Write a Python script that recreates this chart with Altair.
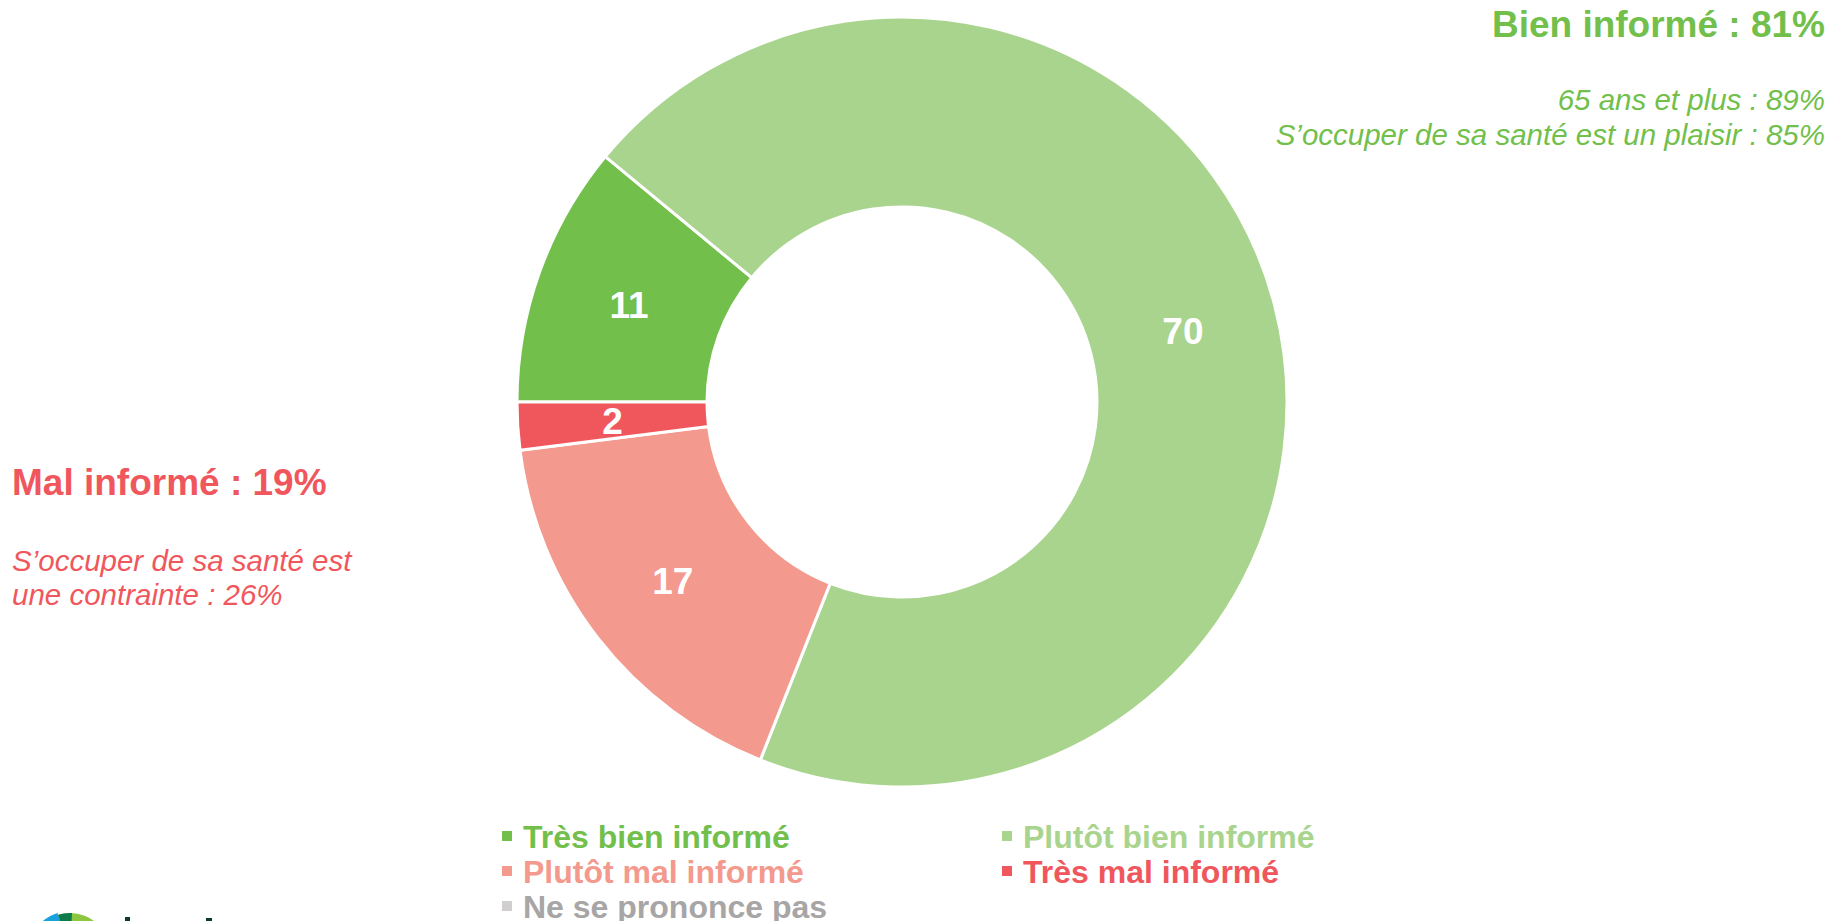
import math
import altair as alt
import pandas as pd

# ---------------- data ----------------
categories = ["Très bien informé", "Plutôt bien informé", "Plutôt mal informé",
              "Très mal informé", "Ne se prononce pas"]
values = [11, 70, 17, 2, 0]
slice_colors = ["#72BF4C", "#A9D48E", "#F4998D", "#F0575D", "#D0CECE"]
legend_text_colors = ["#72BF4C", "#A9D48E", "#F4998D", "#F0575D", "#A7A5A5"]

bien_title = ["Bien informé : 81%"]
bien_notes = ["65 ans et plus : 89%", "S’occuper de sa santé est un plaisir : 85%"]
mal_title = ["Mal informé : 19%"]
mal_notes = ["S’occuper de sa santé est", "une contrainte : 26%"]

logo_colors = ["#8DC63F", "#E4E639", "#1BA1DB", "#0E7B4B", "#0B3B2E"]

# ---------------- layout ----------------
W, H = 1827, 913
CX, CY = 894, 394
R_OUT, R_IN = 385, 195
FONT = "Liberation Sans"
GREEN = "#72BF4C"
RED = "#F0575D"
TAU = 2 * math.pi

df = pd.DataFrame({
    "cat": categories,
    "value": values,
    "idx": list(range(len(categories))),
    "tcolor": legend_text_colors,
})

start = 1.5 * math.pi
theta = alt.Theta("value:Q", stack=True,
                  scale=alt.Scale(range=[start, start + TAU]))
color_scale = alt.Scale(domain=categories, range=slice_colors)

pie_src = alt.Chart(df).transform_filter("datum.value > 0")

donut = pie_src.mark_arc(outerRadius=R_OUT, innerRadius=R_IN,
                         stroke="white", strokeWidth=3).encode(
    theta=theta,
    order=alt.Order("idx:Q"),
    color=alt.Color("cat:N", scale=color_scale, legend=None),
    x=alt.value(CX), y=alt.value(CY),
)

labels = pie_src.mark_text(radius=(R_OUT + R_IN) / 2, font=FONT, fontSize=37,
                           fontWeight="bold", align="center", baseline="middle",
                           dy=3, color="white").encode(
    theta=theta,
    order=alt.Order("idx:Q"),
    detail="cat:N",
    text="value:Q",
    x=alt.value(CX), y=alt.value(CY),
)

# ---------------- custom legend ----------------
leg_base = alt.Chart(df).transform_calculate(
    col="datum.idx % 2", row="floor(datum.idx / 2)"
).transform_calculate(
    sx="499 + datum.col * 500",
    sy="828 + datum.row * 35",
    tx="515 + datum.col * 500",
    ty="840 + datum.row * 35",
)
leg_sq = leg_base.mark_square(size=100, opacity=1).encode(
    x=alt.X("sx:Q", scale=None), y=alt.Y("sy:Q", scale=None),
    color=alt.Color("cat:N", scale=color_scale, legend=None),
)
leg_txt = leg_base.mark_text(align="left", baseline="alphabetic", font=FONT,
                             fontSize=32, fontWeight="bold").encode(
    x=alt.X("tx:Q", scale=None), y=alt.Y("ty:Q", scale=None),
    text="cat:N",
    fill=alt.Fill("tcolor:N", scale=None),
)


def note(lines, x, y0, dy, align, size, weight, style, color):
    d = pd.DataFrame({"t": lines, "i": list(range(len(lines)))})
    return alt.Chart(d).transform_calculate(
        py=f"{y0} + datum.i * {dy}"
    ).mark_text(align=align, baseline="alphabetic", font=FONT, fontSize=size,
                fontWeight=weight, fontStyle=style, color=color).encode(
        x=alt.value(x), y=alt.Y("py:Q", scale=None), text="t:N")


notes = [
    note(bien_title, 1817, 29, 0, "right", 37, "bold", "normal", GREEN),
    note(bien_notes, 1817, 102, 35, "right", 29.5, "normal", "italic", GREEN),
    note(mal_title, 4, 487, 0, "left", 37, "bold", "normal", RED),
    note(mal_notes, 4, 563, 34, "left", 29.5, "normal", "italic", RED),
]

# ---------------- logo fragment (cut at bottom edge) ----------------
one = pd.DataFrame({"a": [0]})
LX, LY = 62, 945


def logo_arc(r, t0, t1, col):
    return alt.Chart(one).mark_arc(outerRadius=r, innerRadius=0, theta=t0, theta2=t1,
                                   color=col).encode(x=alt.value(LX), y=alt.value(LY))


def logo_bit(x0, x1, y0):
    return alt.Chart(one).mark_rect(color=logo_colors[4]).encode(
        x=alt.value(x0), x2=alt.value(x1), y=alt.value(y0), y2=alt.value(H))


logo = [
    logo_arc(40, 0, TAU, logo_colors[0]),
    logo_arc(31, 0, TAU, logo_colors[1]),
    logo_arc(42, TAU - 0.75, TAU - 0.3, logo_colors[2]),
    logo_arc(40, TAU - 0.3, TAU + 0.05, logo_colors[3]),
    logo_bit(117, 122, 909),
    logo_bit(198, 204, 910),
]

chart = alt.layer(donut, labels, leg_sq, leg_txt, *notes, *logo).properties(
    width=W, height=H,
    autosize=alt.AutoSizeParams(type="none"),
    padding=0,
    background="white",
).configure_view(stroke=None)

chart.save("out.html", embed_options={"renderer": "svg", "actions": False})
